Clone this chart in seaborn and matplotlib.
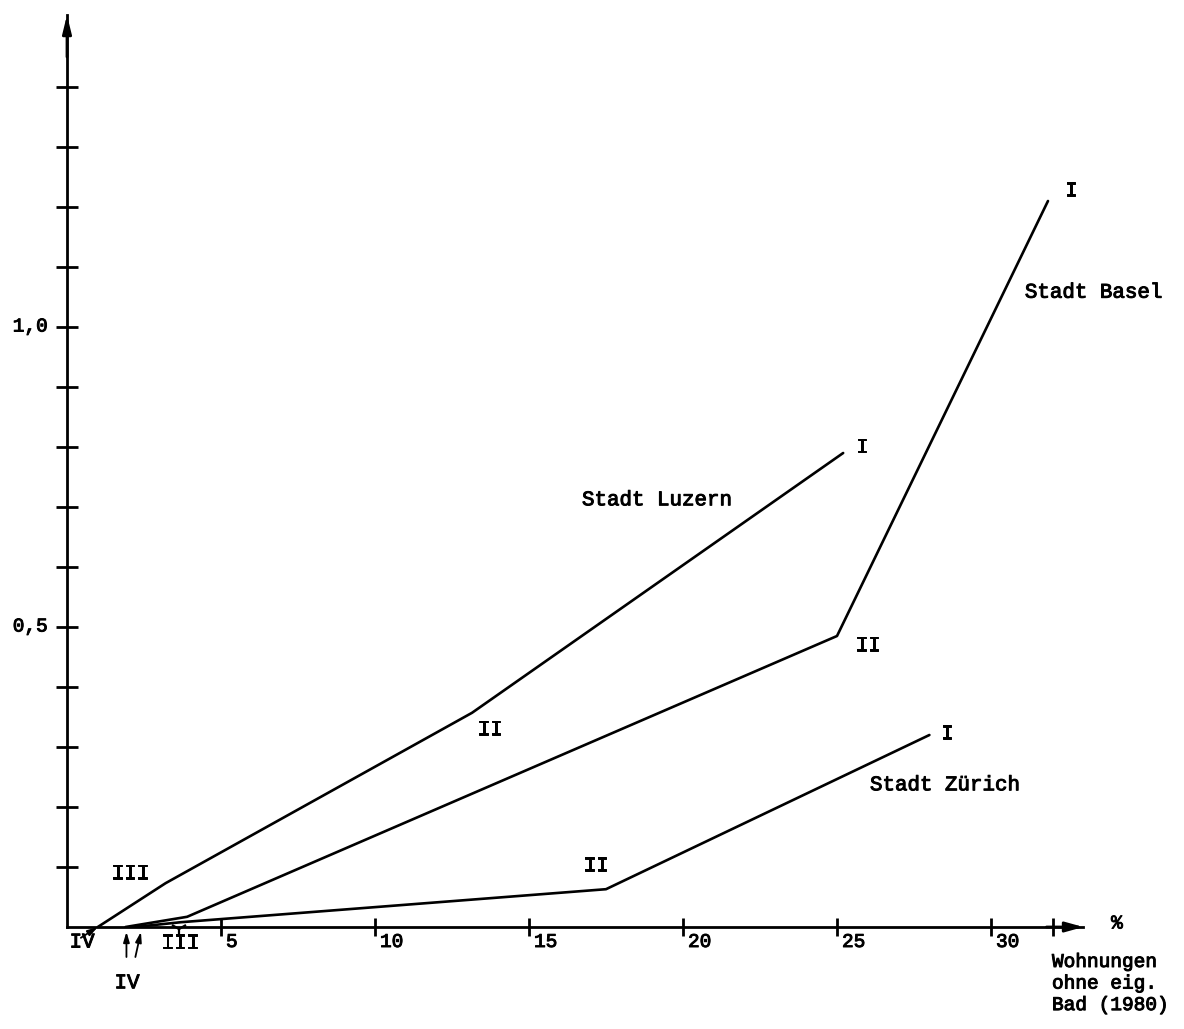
import matplotlib
matplotlib.use("Agg")
import matplotlib.pyplot as plt
import matplotlib.patheffects as pe
import seaborn as sns
import pandas as pd

# Share of dwellings without own bath (%, x) vs. index value (y), by city zone I–IV
cities = ["Stadt Luzern", "Stadt Basel", "Stadt Zürich"]
zones = ["IV", "III", "II", "I"]
luzern_x = [1.0, 3.2, 13.15, 25.2]
luzern_y = [0.0, 0.073, 0.357, 0.79]
basel_x = [1.9, 3.9, 25.0, 31.85]
basel_y = [0.0, 0.017, 0.485, 1.21]
zurich_x = [2.2, 3.7, 17.5, 28.0]
zurich_y = [0.0, 0.008, 0.063, 0.32]

x_ticks = [5, 10, 15, 20, 25, 30]
x_extra_tick = [32]
y_ticks = [0.1, 0.2, 0.3, 0.4, 0.5, 0.6, 0.7, 0.8, 0.9, 1.0, 1.1, 1.2, 1.3, 1.4]
y_labels = {0.5: "0,5", 1.0: "1,0"}

rows = []
for city, xs, ys in zip(cities, [luzern_x, basel_x, zurich_x], [luzern_y, basel_y, zurich_y]):
    for z, xv, yv in zip(zones, xs, ys):
        rows.append({"Stadt": city, "Zone": z, "x": xv, "y": yv})
df = pd.DataFrame(rows)

sns.set_theme(style="white")
plt.rcParams["font.family"] = ["Liberation Mono", "DejaVu Sans Mono"]
plt.rcParams["text.color"] = "black"

# slightly heavier typewriter strokes
ink = [pe.withStroke(linewidth=0.7, foreground="black")]

fig = plt.figure(figsize=(11.84, 10.29), dpi=100)
ax = fig.add_axes([67 / 1184, 102 / 1029, 33 * 30.8 / 1184, 912 / 1029])

sns.lineplot(data=df, x="x", y="y", hue="Stadt", units="Stadt", estimator=None,
             sort=False, palette=["black"] * 3, linewidth=1.9, legend=False, ax=ax)

ax.set_xlim(0, 33.0)
ax.set_ylim(0, 1.52)
ax.set_xlabel("")
ax.set_ylabel("")

for side in ["top", "right"]:
    ax.spines[side].set_visible(False)
for side in ["left", "bottom"]:
    ax.spines[side].set_color("black")
    ax.spines[side].set_linewidth(2.0)

# Axis arrows
ax.annotate("", xy=(33.0, 0), xytext=(31.8, 0),
            arrowprops=dict(arrowstyle="-|>,head_length=0.9,head_width=0.25",
                            color="black", lw=2, shrinkA=0, shrinkB=0),
            annotation_clip=False)
ax.annotate("", xy=(0, 1.52), xytext=(0, 1.45),
            arrowprops=dict(arrowstyle="-|>,head_length=0.9,head_width=0.22",
                            color="black", lw=2, shrinkA=0, shrinkB=0),
            annotation_clip=False)

# Ticks crossing the axes
ax.set_xticks(x_ticks + x_extra_tick)
ax.set_xticklabels([])
ax.set_yticks(y_ticks)
ax.set_yticklabels([])
ax.tick_params(axis="x", direction="inout", length=13, width=2, color="black", bottom=True)
ax.tick_params(axis="y", direction="inout", length=16, width=2, color="black", left=True)

for t in x_ticks:
    ax.annotate(str(t), (t, 0), xytext=(5, -7), textcoords="offset pixels",
                ha="left", va="top", fontsize=14, path_effects=ink)
for v, s in y_labels.items():
    ax.annotate(s, (0, v), xytext=(-19, 0), textcoords="offset pixels",
                ha="right", va="center", fontsize=14, path_effects=ink)

ax.text(33.9, 0.005, "%", ha="left", va="center", fontsize=14, path_effects=ink)
ax.text(31.98, -0.045, "Wohnungen\nohne eig.\nBad (1980)", ha="left", va="top",
        fontsize=14, linespacing=1.35, path_effects=ink)

# City names
ax.text(16.72, 0.712, "Stadt Luzern", ha="left", va="center", fontsize=15, path_effects=ink)
ax.text(31.1, 1.058, "Stadt Basel", ha="left", va="center", fontsize=15, path_effects=ink)
ax.text(26.07, 0.237, "Stadt Zürich", ha="left", va="center", fontsize=15, path_effects=ink)

# Zone labels
zone_labels = [
    ("I", 25.81, 0.80), ("II", 13.73, 0.33), ("III", 2.05, 0.09), ("IV", 0.49, -0.025),
    ("I", 32.6, 1.228), ("II", 26.0, 0.47), ("III", 3.67, -0.026), ("IV", 1.95, -0.093),
    ("I", 28.57, 0.323), ("II", 17.17, 0.103),
]
for s, xv, yv in zone_labels:
    ax.text(xv, yv, s, ha="center", va="center", fontsize=15, path_effects=ink)

# Leader arrows for the zone IV points near the origin
arrow_kw = dict(arrowstyle="-|>,head_length=0.5,head_width=0.15", color="black",
                lw=1.3, shrinkA=0, shrinkB=0)
ax.annotate("", xy=(1.0, 0.0), xytext=(0.45, -0.018), arrowprops=arrow_kw, annotation_clip=False)
ax.annotate("", xy=(1.93, -0.008), xytext=(1.93, -0.05), arrowprops=arrow_kw, annotation_clip=False)
ax.annotate("", xy=(2.4, -0.008), xytext=(2.22, -0.05), arrowprops=arrow_kw, annotation_clip=False)
# Marker for zone III on the axis
ax.plot([3.65], [-0.004], marker="1", color="black", markersize=12, markeredgewidth=1.6,
        clip_on=False)

fig.savefig("out.png", dpi=100, facecolor="white")
